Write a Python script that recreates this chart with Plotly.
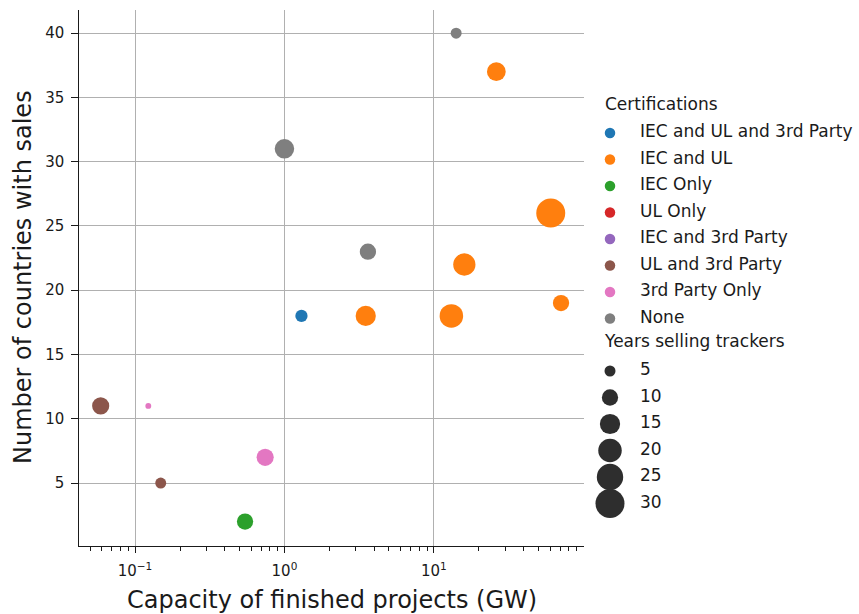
import plotly.graph_objects as go

# data
certification = [
    "None", "IEC and UL", "None", "IEC and UL", "None", "IEC and UL", "IEC and UL",
    "IEC and UL and 3rd Party", "IEC and UL", "IEC and UL", "UL and 3rd Party",
    "3rd Party Only", "3rd Party Only", "UL and 3rd Party", "IEC Only",
]
capacity_gw = [14.1, 26.2, 1.0, 60.6, 3.62, 16.0, 71.0, 1.30, 3.50, 13.1,
               0.0589, 0.1227, 0.743, 0.1486, 0.545]
countries = [40, 37, 31, 26, 23, 22, 19, 18, 18, 18, 11, 11, 7, 5, 2]
years = [5, 13, 14, 30, 10, 18, 10, 6, 15, 20, 11, 2, 11, 5, 10]

categories = [
    "IEC and UL and 3rd Party", "IEC and UL", "IEC Only", "UL Only",
    "IEC and 3rd Party", "UL and 3rd Party", "3rd Party Only", "None",
]
colors = ["#1f77b4", "#ff7f0e", "#2ca02c", "#d62728",
          "#9467bd", "#8c564b", "#e377c2", "#7f7f7f"]
size_legend_years = [5, 10, 15, 20, 25, 30]

x_ticks = [0.1, 1, 10]
x_ticktext = ["10<sup>−1</sup>", "10<sup>0</sup>", "10<sup>1</sup>"]
y_ticks = [5, 10, 15, 20, 25, 30, 35, 40]

W, H = 859, 614
FONT = "DejaVu Sans"
INK = "#1a1a1a"


def diameter(y):
    # marker area grows linearly with years (seaborn-like size mapping)
    return (28.8 * y - 23) ** 0.5


fig = go.Figure()

for cat, col in zip(categories, colors):
    idx = [i for i, c in enumerate(certification) if c == cat]
    if not idx:
        continue
    fig.add_trace(go.Scatter(
        x=[capacity_gw[i] for i in idx],
        y=[countries[i] for i in idx],
        mode="markers",
        marker=dict(color=col, size=[diameter(years[i]) for i in idx],
                    sizemode="diameter", line=dict(width=0), opacity=1),
        showlegend=False,
        name=cat,
    ))

# hand-drawn legend on an auxiliary pixel-space axis
leg_x_dot, leg_x_text, leg_x_title = 610, 640, 605
cat_y0, size_y0, step = 133, 371, 26.5
leg_font = dict(family=FONT, size=17, color=INK)

fig.add_trace(go.Scatter(
    x=[leg_x_dot] * len(categories),
    y=[cat_y0 + k * step for k in range(len(categories))],
    mode="markers",
    marker=dict(color=colors, size=10.5, line=dict(width=0), opacity=1),
    xaxis="x2", yaxis="y2", showlegend=False, hoverinfo="skip",
))
fig.add_trace(go.Scatter(
    x=[leg_x_text] * len(categories),
    y=[cat_y0 + k * step for k in range(len(categories))],
    mode="text", text=categories, textposition="middle right",
    textfont=leg_font,
    xaxis="x2", yaxis="y2", showlegend=False, hoverinfo="skip",
))
fig.add_trace(go.Scatter(
    x=[leg_x_dot] * len(size_legend_years),
    y=[size_y0 + k * step for k in range(len(size_legend_years))],
    mode="markers",
    marker=dict(color="#2e2e2e", size=[diameter(v) for v in size_legend_years],
                sizemode="diameter", line=dict(width=0), opacity=1),
    xaxis="x2", yaxis="y2", showlegend=False, hoverinfo="skip",
))
fig.add_trace(go.Scatter(
    x=[leg_x_text] * len(size_legend_years),
    y=[size_y0 + k * step for k in range(len(size_legend_years))],
    mode="text", text=[str(v) for v in size_legend_years],
    textposition="middle right", textfont=leg_font,
    xaxis="x2", yaxis="y2", showlegend=False, hoverinfo="skip",
))
fig.add_trace(go.Scatter(
    x=[leg_x_title, leg_x_title], y=[105.5, 343],
    mode="text", text=["Certifications", "Years selling trackers"],
    textposition="middle right", textfont=leg_font,
    xaxis="x2", yaxis="y2", showlegend=False, hoverinfo="skip",
))

minor_vals = [m * 10 ** e for e in (-2, -1, 0, 1) for m in range(2, 10)]

fig.update_layout(
    width=W, height=H,
    margin=dict(l=0, r=0, t=0, b=0),
    template="none",
    paper_bgcolor="white", plot_bgcolor="rgba(0,0,0,0)",
    font=dict(family=FONT, size=15, color=INK),
    xaxis=dict(
        type="log", domain=[79 / W, 584 / W],
        range=[-1.375, 2.005],
        tickvals=x_ticks, ticktext=x_ticktext,
        tickfont=dict(family=FONT, size=15, color=INK),
        showgrid=True, gridcolor="#b0b0b0", gridwidth=1,
        showline=True, linecolor=INK, linewidth=1.3,
        ticks="outside", ticklen=6, tickcolor=INK, tickwidth=1,
        ticklabelstandoff=5,
        minor=dict(tickvals=minor_vals, ticks="outside", ticklen=3.5,
                   tickcolor=INK, showgrid=False),
        zeroline=False, automargin=False, anchor="y",
    ),
    yaxis=dict(
        domain=[1 - 546 / H, 1 - 10 / H],
        range=[0.1, 41.8],
        tickvals=y_ticks,
        tickfont=dict(family=FONT, size=15, color=INK),
        showgrid=True, gridcolor="#b0b0b0", gridwidth=1,
        showline=True, linecolor=INK, linewidth=1.3,
        ticks="outside", ticklen=6.5, tickcolor=INK, tickwidth=1,
        ticklabelstandoff=4,
        zeroline=False, automargin=False, anchor="x",
    ),
    xaxis2=dict(domain=[0, 1], range=[0, W], visible=False, anchor="y2"),
    yaxis2=dict(domain=[0, 1], range=[H, 0], visible=False, anchor="x2"),
    annotations=[
        dict(text="Capacity of finished projects (GW)", x=331.5 / W, y=1 - 600 / H,
             xref="paper", yref="paper", showarrow=False,
             xanchor="center", yanchor="middle",
             font=dict(family=FONT, size=24, color=INK)),
        dict(text="Number of countries with sales", x=23 / W, y=1 - 277 / H,
             xref="paper", yref="paper", showarrow=False, textangle=-90,
             xanchor="center", yanchor="middle",
             font=dict(family=FONT, size=24, color=INK)),
    ],
)

fig.write_html("out.html", config={"displayModeBar": False},
               post_script="document.body.style.margin='0';")
